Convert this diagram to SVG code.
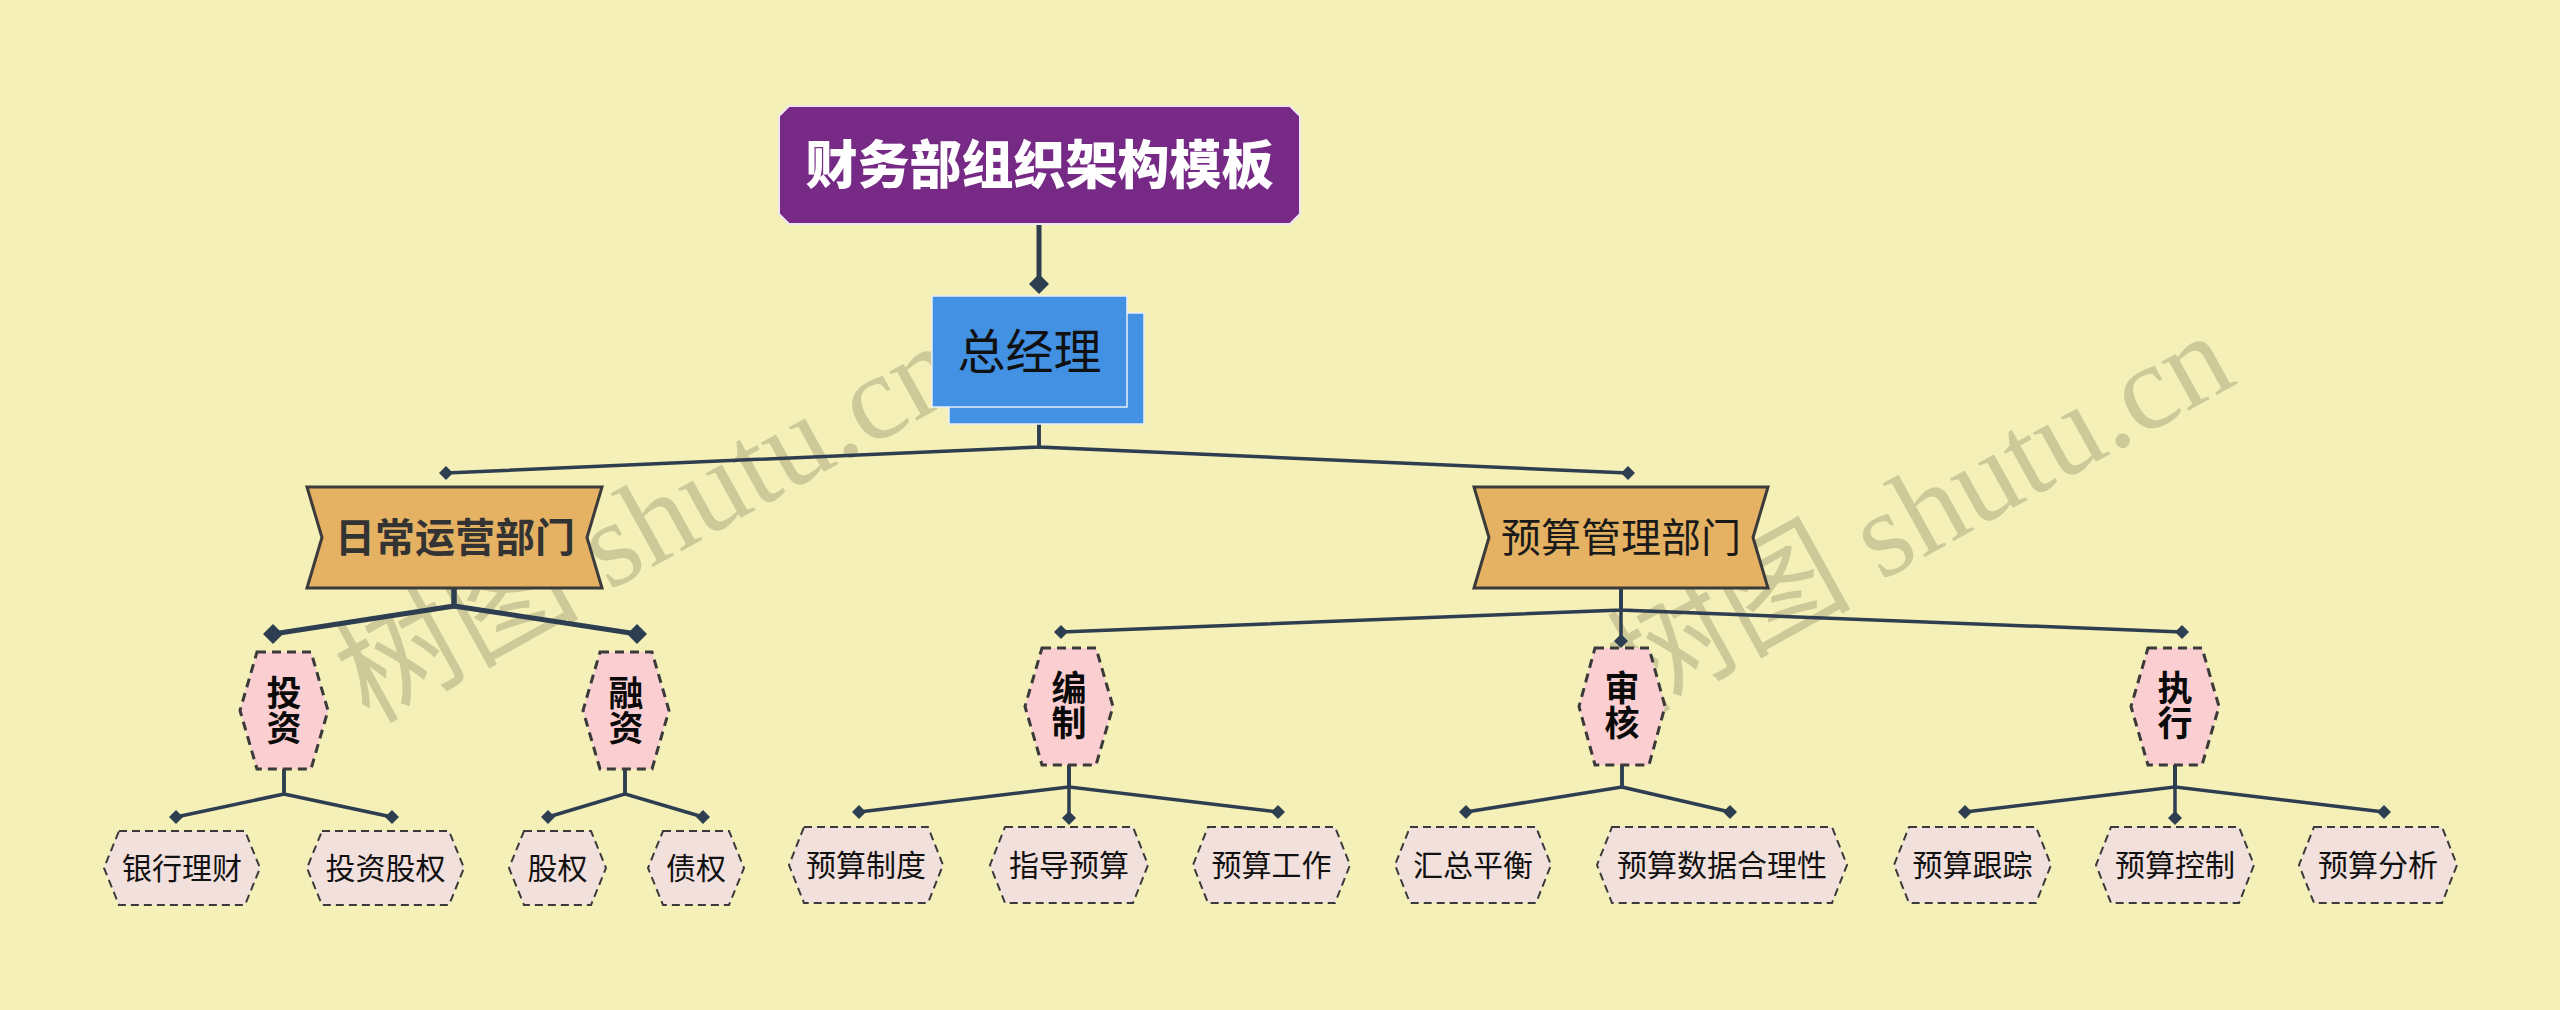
<svg xmlns="http://www.w3.org/2000/svg" width="2560" height="1010" viewBox="0 0 2560 1010">
<defs>
<style>
.cjk{font-family:"Noto Sans CJK SC","Noto Sans",sans-serif;}
.title{font-size:52px;font-weight:900;fill:#ffffff;}
.gm{font-size:48px;fill:#111111;}
.dept{font-size:40px;fill:#1a1a1a;}
.deptb{font-size:40px;font-weight:700;fill:#333333;}
.mid{font-size:35px;font-weight:700;fill:#0a0a0a;writing-mode:vertical-rl;text-anchor:middle;}
.leaf{font-size:30px;fill:#111111;}
.banner{fill:#e5b263;stroke:#3b3b3b;stroke-width:3;stroke-linejoin:miter;}
.midhex{fill:#fbcfd1;stroke:#3a3a3a;stroke-width:3;stroke-dasharray:9 6;}
.leafhex{fill:#f2e0dc;stroke:#3a3a3a;stroke-width:2;stroke-dasharray:8 5;}
.cL{fill:none;stroke:#2d3e50;stroke-width:5;marker-end:url(#dL);}
.cS{fill:none;stroke:#2d3e50;stroke-width:3.5;marker-end:url(#dS);}
.wm{font-family:"Liberation Serif","Noto Sans CJK SC",serif;font-size:122px;fill:#8a8560;fill-opacity:0.36;}
</style>
<marker id="dL" markerUnits="userSpaceOnUse" markerWidth="22" markerHeight="22" viewBox="-11 -11 22 22" refX="0" refY="0" orient="0">
<path d="M0,-10 L10,0 L0,10 L-10,0 Z" fill="#2d3e50"/>
</marker>
<marker id="dS" markerUnits="userSpaceOnUse" markerWidth="16" markerHeight="16" viewBox="-8 -8 16 16" refX="0" refY="0" orient="0">
<path d="M0,-7 L7,0 L0,7 L-7,0 Z" fill="#2d3e50"/>
</marker>
</defs>
<rect x="0" y="0" width="2560" height="1010" fill="#f5f0b8"/>

<g id="watermarks">
<text class="wm" transform="translate(648,522) rotate(-29)" text-anchor="middle" dominant-baseline="central">树图 shutu.cn</text>
<text class="wm" transform="translate(1920,512) rotate(-29)" text-anchor="middle" dominant-baseline="central">树图 shutu.cn</text>
</g>

<g id="connectors">
<path class="cL" d="M1039,224 V284"/>
<path class="cS" d="M1039,424 V447 L446,473"/>
<path class="cS" d="M1039,424 V447 L1628,473"/>
<path class="cL" d="M454,588 V606 L273,634"/>
<path class="cL" d="M454,588 V606 L637,634"/>
<path class="cS" d="M1621,588 V610 L1061,632"/>
<path class="cS" d="M1621,588 V641"/>
<path class="cS" d="M1621,588 V610 L2182,632"/>
<path class="cS" d="M284,769 V794 L176,817"/>
<path class="cS" d="M284,769 V794 L392,817"/>
<path class="cS" d="M625,769 V794 L548,817"/>
<path class="cS" d="M625,769 V794 L703,817"/>
<path class="cS" d="M1069,765 V787 L859,812"/>
<path class="cS" d="M1069,765 V818"/>
<path class="cS" d="M1069,765 V787 L1278,812"/>
<path class="cS" d="M1622,765 V787 L1466,812"/>
<path class="cS" d="M1622,765 V787 L1730,812"/>
<path class="cS" d="M2175,765 V787 L1965,812"/>
<path class="cS" d="M2175,765 V818"/>
<path class="cS" d="M2175,765 V787 L2384,812"/>
</g>

<g id="n-title">
<path d="M789,106 H1290 L1300,116 V214 L1290,224 H789 L779,214 V116 Z" fill="#772a85" stroke="#efe6ef" stroke-width="2"/>
<text class="cjk title" x="1039.5" y="184" text-anchor="middle">财务部组织架构模板</text>
</g>

<g id="n-gm">
<rect x="949" y="313" width="195" height="111" fill="#4391e3" stroke="#e8f0fa" stroke-width="1.5"/>
<rect x="932" y="296" width="195" height="111" fill="#4391e3" stroke="#e8f0fa" stroke-width="1.5"/>
<text class="cjk gm" x="1029.5" y="369" text-anchor="middle">总经理</text>
</g>

<g id="n-daily">
<path class="banner" d="M307,487 H602 L587,537.5 L602,588 H307 L322,537.5 Z"/>
<text class="cjk deptb" x="455" y="552" text-anchor="middle">日常运营部门</text>
</g>

<g id="n-budget">
<path class="banner" d="M1474,487 H1768 L1753,537.5 L1768,588 H1474 L1489,537.5 Z"/>
<text class="cjk dept" x="1621" y="552" text-anchor="middle">预算管理部门</text>
</g>

<g id="n-invest">
<path class="midhex" d="M257,652 H311 L328,710.5 L311,769 H257 L240,710.5 Z"/>
<text class="cjk mid" x="284" y="710">投资</text>
</g>

<g id="n-finance">
<path class="midhex" d="M600,652 H652 L669,710.5 L652,769 H600 L583,710.5 Z"/>
<text class="cjk mid" x="626" y="710">融资</text>
</g>

<g id="n-compile">
<path class="midhex" d="M1042,648 H1096 L1113,706.5 L1096,765 H1042 L1025,706.5 Z"/>
<text class="cjk mid" x="1069" y="705">编制</text>
</g>

<g id="n-audit">
<path class="midhex" d="M1595,648 H1649 L1665,706.5 L1649,765 H1595 L1579,706.5 Z"/>
<text class="cjk mid" x="1622" y="705">审核</text>
</g>

<g id="n-execute">
<path class="midhex" d="M2148,648 H2202 L2219,706.5 L2202,765 H2148 L2131,706.5 Z"/>
<text class="cjk mid" x="2175" y="705">执行</text>
</g>

<g id="n-leaf1">
<path class="leafhex" d="M119,831 H245 L260,868 L245,905 H119 L104,868 Z"/>
<text class="cjk leaf" x="182" y="879" text-anchor="middle">银行理财</text>
</g>
<g id="n-leaf2">
<path class="leafhex" d="M322,831 H449 L464,868 L449,905 H322 L307,868 Z"/>
<text class="cjk leaf" x="385.5" y="879" text-anchor="middle">投资股权</text>
</g>
<g id="n-leaf3">
<path class="leafhex" d="M524,831 H591 L606,868 L591,905 H524 L509,868 Z"/>
<text class="cjk leaf" x="557.5" y="879" text-anchor="middle">股权</text>
</g>
<g id="n-leaf4">
<path class="leafhex" d="M663,831 H729 L744,868 L729,905 H663 L648,868 Z"/>
<text class="cjk leaf" x="696" y="879" text-anchor="middle">债权</text>
</g>
<g id="n-leaf5">
<path class="leafhex" d="M804,827 H928 L943,865 L928,903 H804 L789,865 Z"/>
<text class="cjk leaf" x="866" y="876" text-anchor="middle">预算制度</text>
</g>
<g id="n-leaf6">
<path class="leafhex" d="M1005,827 H1133 L1148,865 L1133,903 H1005 L990,865 Z"/>
<text class="cjk leaf" x="1069" y="876" text-anchor="middle">指导预算</text>
</g>
<g id="n-leaf7">
<path class="leafhex" d="M1208,827 H1335 L1350,865 L1335,903 H1208 L1193,865 Z"/>
<text class="cjk leaf" x="1271.5" y="876" text-anchor="middle">预算工作</text>
</g>
<g id="n-leaf8">
<path class="leafhex" d="M1410,827 H1536 L1551,865 L1536,903 H1410 L1395,865 Z"/>
<text class="cjk leaf" x="1473" y="876" text-anchor="middle">汇总平衡</text>
</g>
<g id="n-leaf9">
<path class="leafhex" d="M1612,827 H1832 L1847,865 L1832,903 H1612 L1597,865 Z"/>
<text class="cjk leaf" x="1722" y="876" text-anchor="middle">预算数据合理性</text>
</g>
<g id="n-leaf10">
<path class="leafhex" d="M1909,827 H2036 L2051,865 L2036,903 H1909 L1894,865 Z"/>
<text class="cjk leaf" x="1972.5" y="876" text-anchor="middle">预算跟踪</text>
</g>
<g id="n-leaf11">
<path class="leafhex" d="M2111,827 H2239 L2254,865 L2239,903 H2111 L2096,865 Z"/>
<text class="cjk leaf" x="2175" y="876" text-anchor="middle">预算控制</text>
</g>
<g id="n-leaf12">
<path class="leafhex" d="M2314,827 H2442 L2457,865 L2442,903 H2314 L2299,865 Z"/>
<text class="cjk leaf" x="2378" y="876" text-anchor="middle">预算分析</text>
</g>
</svg>
